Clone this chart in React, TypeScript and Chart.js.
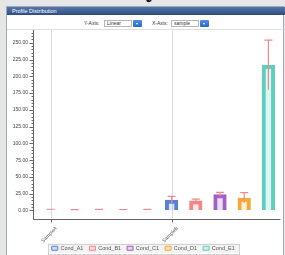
import React, { useEffect, useRef } from "react";
import { Chart, registerables } from "chart.js";

Chart.register(...registerables);

const categories = ["SampleA", "SampleB"];
const seriesNames = ["Cond_A1", "Cond_B1", "Cond_C1", "Cond_D1", "Cond_E1"];
const seriesColors = ["#5a80d6", "#f08686", "#a35fc5", "#f5a833", "#5fcfbd"];
const valuesA = [1.2, 16];
const valuesB = [0.8, 15];
const valuesC = [1.0, 24];
const valuesD = [0.9, 19];
const valuesE = [1.0, 217];
const errorsA = [0.6, 5];
const errorsB = [0.5, 2];
const errorsC = [0.5, 3];
const errorsD = [0.5, 7.5];
const errorsE = [0.5, 37];
const yMin = -12;
const yMax = 269;
const majorStep = 25;
const minorStep = 5;
const tickTop = 265;

const seriesValues = [valuesA, valuesB, valuesC, valuesD, valuesE];
const seriesErrors = [errorsA, errorsB, errorsC, errorsD, errorsE];

function rgba(hex: string, a: number) {
  const n = parseInt(hex.slice(1), 16);
  return `rgba(${(n >> 16) & 255},${(n >> 8) & 255},${n & 255},${a})`;
}

const FONT = "Arial, 'Liberation Sans', sans-serif";

const customPlugin = {
  id: "customDecor",
  beforeDraw(chart: any) {
    const lg = chart.legend;
    if (!lg || !lg.legendHitBoxes || !lg.legendHitBoxes.length) return;
    const hb = lg.legendHitBoxes;
    const l = Math.min(...hb.map((h: any) => h.left)) - 4;
    const r = Math.max(...hb.map((h: any) => h.left + h.width)) + 4;
    const t = hb[0].top - 2;
    const b = hb[0].top + hb[0].height + 2;
    const ctx = chart.ctx;
    ctx.save();
    ctx.fillStyle = "#f3f3f3";
    ctx.strokeStyle = "#d2d2d2";
    ctx.lineWidth = 1;
    ctx.fillRect(l, t, r - l, b - t);
    ctx.strokeRect(Math.round(l) + 0.5, Math.round(t) + 0.5, Math.round(r - l), Math.round(b - t));
    ctx.restore();
  },
  beforeDatasetsDraw(chart: any) {
    const ctx = chart.ctx;
    const area = chart.chartArea;
    const meta = chart.getDatasetMeta(0);
    ctx.save();
    ctx.strokeStyle = "#dcdcdc";
    ctx.lineWidth = 1;
    meta.data.forEach((bar: any) => {
      const x = Math.round(bar.x) + 0.5;
      ctx.beginPath();
      ctx.moveTo(x, area.top);
      ctx.lineTo(x, area.bottom);
      ctx.stroke();
    });
    ctx.restore();
  },
  afterDatasetsDraw(chart: any) {
    const ctx = chart.ctx;
    const ys = chart.scales.y;
    ctx.save();
    ctx.strokeStyle = "#f08a8a";
    ctx.lineWidth = 1.2;
    chart.data.datasets.forEach((ds: any, i: number) => {
      const meta = chart.getDatasetMeta(i);
      meta.data.forEach((bar: any, j: number) => {
        const v = seriesValues[i][j];
        const e = seriesErrors[i][j];
        const top = ys.getPixelForValue(v + e);
        const bot = ys.getPixelForValue(Math.max(0, v - e));
        const x = bar.x;
        const cap = 4;
        ctx.beginPath();
        ctx.moveTo(x, top);
        ctx.lineTo(x, bot);
        ctx.moveTo(x - cap, top);
        ctx.lineTo(x + cap, top);
        ctx.stroke();
      });
    });
    ctx.restore();
  },
  afterDraw(chart: any) {
    const ctx = chart.ctx;
    const area = chart.chartArea;
    const ys = chart.scales.y;
    const axisX = 27.5;
    const axisY = Math.round(area.bottom) + 0.5;
    ctx.save();
    ctx.strokeStyle = "#666";
    ctx.lineWidth = 1;
    ctx.beginPath();
    ctx.moveTo(axisX, area.top);
    ctx.lineTo(axisX, axisY);
    ctx.lineTo(area.right, axisY);
    ctx.stroke();
    ys.ticks.forEach((t: any) => {
      if (t.value < 0) return;
      const py = Math.round(ys.getPixelForValue(t.value)) + 0.5;
      const len = t.value % majorStep === 0 ? 4 : 2;
      ctx.beginPath();
      ctx.moveTo(axisX - len, py);
      ctx.lineTo(axisX, py);
      ctx.stroke();
    });
    const meta = chart.getDatasetMeta(0);
    ctx.fillStyle = "#555";
    ctx.font = `5px ${FONT}`;
    meta.data.forEach((bar: any, i: number) => {
      const x = Math.round(bar.x) + 0.5;
      ctx.beginPath();
      ctx.moveTo(x, axisY);
      ctx.lineTo(x, axisY + 3);
      ctx.stroke();
      ctx.save();
      ctx.translate(x + 5, axisY + 8);
      ctx.rotate(-Math.PI / 4);
      ctx.textAlign = "right";
      ctx.textBaseline = "middle";
      ctx.fillText(categories[i], 0, 0);
      ctx.restore();
    });
    ctx.restore();
  },
};

function ChartBox() {
  const ref = useRef<HTMLCanvasElement>(null);
  useEffect(() => {
    if (!ref.current) return;
    const datasets = seriesNames.map((name, i) => ({
      label: name,
      data: seriesValues[i],
      backgroundColor: rgba(seriesColors[i], 0.2),
      borderColor: seriesColors[i],
      borderWidth: 4,
      borderSkipped: "start" as const,
      categoryPercentage: 1,
      barPercentage: 0.55,
    }));
    const chart = new Chart(ref.current, {
      type: "bar",
      data: { labels: categories, datasets },
      plugins: [customPlugin],
      options: {
        animation: false,
        responsive: true,
        maintainAspectRatio: false,
        layout: { padding: { top: 1, right: 1.5, left: 0, bottom: 0 } },
        plugins: {
          tooltip: { enabled: false },
          legend: {
            position: "bottom",
            labels: {
              boxWidth: 6,
              boxHeight: 4,
              padding: 6,
              color: "#555",
              font: { size: 5.5, family: FONT },
              generateLabels: (c: any) =>
                Chart.defaults.plugins.legend.labels
                  .generateLabels(c)
                  .map((l: any) => ({ ...l, lineWidth: 1 })),
            },
          },
        },
        scales: {
          x: {
            grid: { display: false },
            border: { display: false },
            ticks: { display: false },
            afterFit: (s: any) => {
              s.height = 21;
              s.paddingLeft = 0;
              s.paddingRight = 0;
            },
          },
          y: {
            min: yMin,
            max: yMax,
            border: { display: false },
            grid: {
              display: true,
              drawOnChartArea: false,
              drawTicks: true,
              tickLength: 6,
              tickColor: "rgba(0,0,0,0)",
            },
            ticks: {
              autoSkip: false,
              padding: 4.5,
              color: "#444",
              font: { size: 5, family: FONT },
              callback: (v: any) =>
                Number(v) % majorStep === 0 ? Number(v).toFixed(2) : "",
            },
            afterBuildTicks: (s: any) => {
              const t: any[] = [];
              for (let v = 0; v <= tickTop; v += minorStep) t.push({ value: v });
              s.ticks = t;
            },
            afterFit: (s: any) => {
              s.width = 32.5;
              s.paddingTop = 0;
              s.paddingBottom = 0;
            },
          },
        },
      },
    });
    return () => chart.destroy();
  }, []);
  return <canvas ref={ref} />;
}

const smallText: React.CSSProperties = {
  position: "absolute",
  fontSize: 5,
  color: "#333",
  lineHeight: "7px",
  whiteSpace: "nowrap",
};

function Select({ left, width, text }: { left: number; width: number; text: string }) {
  return (
    <>
      <div
        style={{
          position: "absolute",
          left,
          top: 20,
          width,
          height: 7,
          border: "1px solid #b8b8b8",
          boxSizing: "border-box",
          background: "#fff",
          fontSize: 5,
          lineHeight: "5px",
          paddingLeft: 2,
          color: "#333",
        }}
      >
        {text}
      </div>
      <div
        style={{
          position: "absolute",
          left: left + width + 1,
          top: 20,
          width: 9,
          height: 7,
          background: "linear-gradient(#4f8fe6, #2a68c8)",
          borderRadius: 1,
        }}
      >
        <div
          style={{
            position: "absolute",
            left: 3,
            top: 3,
            width: 0,
            height: 0,
            borderLeft: "1.5px solid transparent",
            borderRight: "1.5px solid transparent",
            borderTop: "2px solid #fff",
          }}
        />
      </div>
    </>
  );
}

export default function App() {
  useEffect(() => {
    document.body.style.margin = "0";
    document.body.style.overflow = "hidden";
    document.documentElement.style.overflow = "hidden";
  }, []);
  return (
    <div
      style={{
        position: "relative",
        width: 285,
        height: 255,
        overflow: "hidden",
        background: "#e6e6e6",
        fontFamily: FONT,
      }}
    >
      <div
        style={{
          position: "absolute",
          left: 145,
          top: -12,
          fontSize: 16,
          fontWeight: "bold",
          color: "#111",
          lineHeight: "18px",
        }}
      >
        ℓ
      </div>
      <div
        style={{
          position: "absolute",
          left: 6,
          top: 6,
          width: 278,
          height: 260,
          background: "#fff",
          border: "1px solid #9eaabb",
          boxSizing: "border-box",
        }}
      />
      <div
        style={{
          position: "absolute",
          left: 7,
          top: 7,
          width: 278,
          height: 8,
          background: "linear-gradient(#5677ab, #2e4c80)",
          color: "#fff",
          fontSize: 5.5,
          lineHeight: "8px",
          paddingLeft: 5,
          boxSizing: "border-box",
        }}
      >
        Profile Distribution
      </div>
      <div style={{ ...smallText, left: 84, top: 20 }}>Y-Axis:</div>
      <Select left={104} width={28} text="Linear" />
      <div style={{ ...smallText, left: 152, top: 20 }}>X-Axis:</div>
      <Select left={171} width={28} text="sample" />
      <div
        style={{
          position: "absolute",
          left: 7,
          top: 29,
          width: 278,
          height: 1,
          background: "#dedede",
        }}
      />
      <div style={{ position: "absolute", left: 6, top: 29, width: 276, height: 232 }}>
        <ChartBox />
      </div>
    </div>
  );
}
